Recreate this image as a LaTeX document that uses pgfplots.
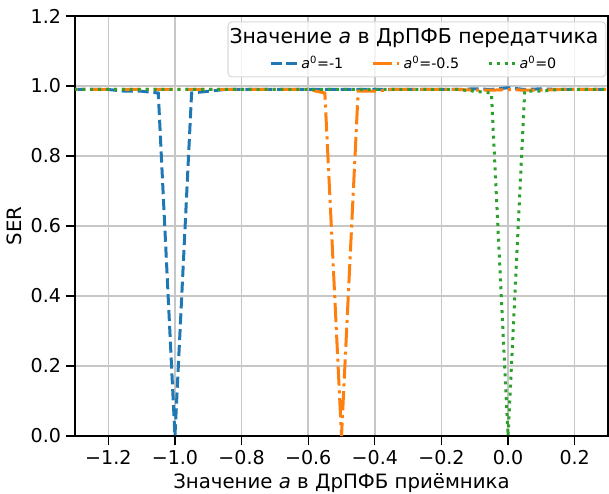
\documentclass[border=0pt]{standalone}
\usepackage{fontspec}
\setmainfont{DejaVu Sans}
\usepackage{pgfplots}
\usepackage{pgfplotstable}
\pgfplotsset{compat=1.18}
\definecolor{tabblue}{HTML}{1F77B4}
\definecolor{taborange}{HTML}{FF7F0E}
\definecolor{tabgreen}{HTML}{2CA02C}

\pgfplotstableread{
x y
-1.35 0.99
-1.30 0.99
-1.25 0.99
-1.20 0.99
-1.15 0.985
-1.10 0.985
-1.05 0.98
-1.00 0.0
-0.95 0.98
-0.90 0.985
-0.85 0.99
-0.80 0.99
-0.75 0.99
-0.70 0.99
-0.65 0.99
-0.60 0.99
-0.55 0.99
-0.50 0.99
-0.45 0.99
-0.40 0.99
-0.35 0.99
-0.30 0.99
-0.25 0.99
-0.20 0.99
-0.15 0.99
-0.10 0.992
-0.05 0.99
0.00 0.995
0.05 0.99
0.10 0.992
0.15 0.99
0.20 0.99
0.25 0.99
0.30 0.99
0.35 0.99
}\blueT

\pgfplotstableread{
x y
-1.35 0.99
-1.30 0.99
-1.25 0.99
-1.20 0.99
-1.15 0.99
-1.10 0.99
-1.05 0.99
-1.00 0.99
-0.95 0.99
-0.90 0.99
-0.85 0.99
-0.80 0.99
-0.75 0.99
-0.70 0.99
-0.65 0.99
-0.60 0.99
-0.55 0.98
-0.50 0.0
-0.45 0.985
-0.40 0.985
-0.35 0.99
-0.30 0.99
-0.25 0.99
-0.20 0.99
-0.15 0.99
-0.10 0.988
-0.05 0.988
0.00 0.99
0.05 0.988
0.10 0.988
0.15 0.99
0.20 0.99
0.25 0.99
0.30 0.99
0.35 0.99
}\orangeT

\pgfplotstableread{
x y
-1.35 0.99
-1.30 0.99
-1.25 0.99
-1.20 0.99
-1.15 0.99
-1.10 0.99
-1.05 0.99
-1.00 0.99
-0.95 0.99
-0.90 0.99
-0.85 0.99
-0.80 0.99
-0.75 0.99
-0.70 0.99
-0.65 0.99
-0.60 0.99
-0.55 0.99
-0.50 0.99
-0.45 0.99
-0.40 0.99
-0.35 0.99
-0.30 0.99
-0.25 0.99
-0.20 0.99
-0.15 0.99
-0.10 0.985
-0.05 0.98
0.00 0.0
0.05 0.985
0.10 0.985
0.15 0.99
0.20 0.99
0.25 0.99
0.30 0.99
0.35 0.99
}\greenT

\begin{document}
\begin{tikzpicture}
\useasboundingbox (-56.25pt,-42.75pt) rectangle (400.5pt,327pt);
\begin{axis}[
  scale only axis,
  width=399.75pt, height=315pt,
  xmin=-1.3, xmax=0.3, ymin=0, ymax=1.2,
  xtick={-1.2,-1.0,-0.8,-0.6,-0.4,-0.2,0,0.2},
  xticklabels={−1.2,−1.0,−0.8,−0.6,−0.4,−0.2,0.0,0.2},
  ytick={0,0.2,0.4,0.6,0.8,1.0,1.2},
  yticklabels={0.0,0.2,0.4,0.6,0.8,1.0,1.2},
  grid=major,
  major grid style={color=black!22, line width=1.1pt},
  tick align=outside, tick pos=left,
  major tick length=7pt,
  every tick/.style={black, line width=1pt},
  axis line style={black, line width=1pt},
  ticklabel style={font=\fontsize{14.3}{16}\selectfont},
  label style={font=\fontsize{14.8}{17}\selectfont},
  xlabel={Значение \textit{a} в ДрПФБ приёмника},
  ylabel={SER},
  legend columns=3,
  legend style={draw=none, fill=none, at={(0.636,0.888)}, anchor=center,
    font=\fontsize{10.7}{12}\selectfont,
    /tikz/every even column/.append style={column sep=19pt}},
  legend image code/.code={\draw[#1] (0pt,0pt) -- (20pt,0pt);},
]
\addplot[tabblue, line width=2.25pt, dash pattern=on 8.3pt off 3.6pt] table[x=x,y=y] {\blueT};
\addlegendentry{\textit{a}\textsuperscript{0}=-1}
\addplot[taborange, line width=2.25pt, dash pattern=on 14.4pt off 3.6pt on 2.25pt off 3.6pt] table[x=x,y=y] {\orangeT};
\addlegendentry{\textit{a}\textsuperscript{0}=-0.5}
\addplot[tabgreen, line width=2.25pt, dash pattern=on 2.25pt off 3.7pt] table[x=x,y=y] {\greenT};
\addlegendentry{\textit{a}\textsuperscript{0}=0}
\draw[rounded corners=3pt, draw=black!15, line width=0.8pt, fill=white, fill opacity=0.8]
  (rel axis cs:0.287,0.855) rectangle (rel axis cs:0.996,0.986);
\node[font=\fontsize{15.3}{18}\selectfont] at (rel axis cs:0.636,0.948) {Значение \textit{a} в ДрПФБ передатчика};
\end{axis}
\end{tikzpicture}
\end{document}
